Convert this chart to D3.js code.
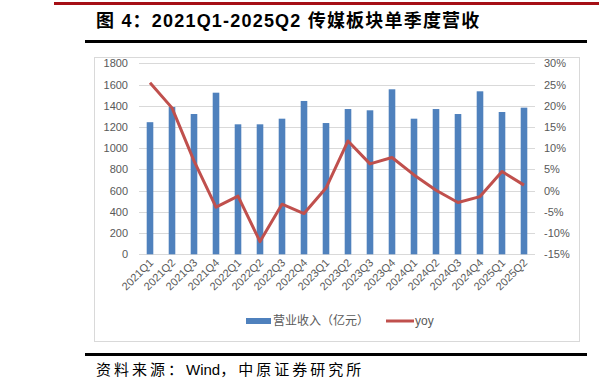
<!DOCTYPE html>
<html>
<head>
<meta charset="utf-8">
<script src="https://cdn.jsdelivr.net/npm/d3@7/dist/d3.min.js"></script>
<style>
  body { margin: 0; background: #fff; }
  svg { display: block; }
  .tick text { font-family: "Liberation Sans", Arial, sans-serif; }
</style>
</head>
<body>
<svg id="chart" width="599" height="389"></svg>
<script>
const quarters = ["2021Q1", "2021Q2", "2021Q3", "2021Q4", "2022Q1", "2022Q2", "2022Q3", "2022Q4",
  "2023Q1", "2023Q2", "2023Q3", "2023Q4", "2024Q1", "2024Q2", "2024Q3", "2024Q4", "2025Q1", "2025Q2"];
const revenue = [1245, 1388, 1322, 1523, 1225, 1225, 1278, 1445,
  1237, 1369, 1357, 1555, 1278, 1369, 1322, 1536, 1341, 1382];
const yoy = [25.4, 19.5, 7.0, -3.9, -1.3, -12.0, -3.2, -5.4,
  0.6, 11.7, 6.3, 7.8, 3.7, 0.1, -2.8, -1.4, 4.5, 1.3];
const leftTicks = [0, 200, 400, 600, 800, 1000, 1200, 1400, 1600, 1800];
const rightTicks = [-15, -10, -5, 0, 5, 10, 15, 20, 25, 30];

const svg = d3.select("#chart");
const blue = "#4f81bd";
const red = "#c0504d";
const gray = "#595959";
const mixedFont = "'Liberation Sans', 'Noto Sans CJK SC', sans-serif";

// Header rules and title
svg.append("rect").attr("x", 54).attr("y", 2).attr("width", 545).attr("height", 3).attr("fill", "#a50f15");
svg.append("text")
  .attr("x", 96)
  .attr("y", 27)
  .attr("font-family", mixedFont)
  .attr("font-weight", "bold")
  .attr("font-size", 18)
  .attr("letter-spacing", 1.2)
  .attr("fill", "#000")
  .text("图 4：2021Q1-2025Q2 传媒板块单季度营收");
svg.append("rect").attr("x", 85).attr("y", 40).attr("width", 502).attr("height", 3).attr("fill", "#000");

// Chart frame
svg.append("rect")
  .attr("x", 94.5).attr("y", 57.5).attr("width", 485).attr("height", 284)
  .attr("fill", "none").attr("stroke", "#d9d9d9");

const plot = { left: 139, right: 535, top: 63.3, bottom: 254.3 };

const x = d3.scaleBand().domain(quarters).range([plot.left, plot.right]).paddingInner(0.7).paddingOuter(0.35);
const yL = d3.scaleLinear().domain([0, 1800]).range([plot.bottom, plot.top]);
const yR = d3.scaleLinear().domain([-15, 30]).range([plot.bottom, plot.top]);

// Gridlines
svg.append("g")
  .selectAll("line")
  .data(leftTicks)
  .join("line")
  .attr("x1", plot.left).attr("x2", plot.right)
  .attr("y1", (d) => Math.round(yL(d)) + 0.5).attr("y2", (d) => Math.round(yL(d)) + 0.5)
  .attr("stroke", "#d9d9d9");

// Left axis
const leftAxis = svg.append("g")
  .attr("transform", `translate(${plot.left - 11},0)`)
  .call(d3.axisLeft(yL).tickValues(leftTicks).tickSize(0).tickPadding(0).tickFormat(d3.format("d")));
leftAxis.select(".domain").remove();
leftAxis.selectAll("text").attr("font-size", 11).attr("fill", gray);

// Right axis
const rightAxis = svg.append("g")
  .attr("transform", `translate(${plot.right + 9},0)`)
  .call(d3.axisRight(yR).tickValues(rightTicks).tickSize(0).tickPadding(0).tickFormat((d) => d + "%"));
rightAxis.select(".domain").remove();
rightAxis.selectAll("text").attr("font-size", 11).attr("fill", gray);

// Bars
svg.append("g")
  .selectAll("rect")
  .data(quarters)
  .join("rect")
  .attr("x", (d) => x(d))
  .attr("y", (d, i) => yL(revenue[i]))
  .attr("width", x.bandwidth())
  .attr("height", (d, i) => yL(0) - yL(revenue[i]))
  .attr("fill", blue);

// X axis
const xAxis = svg.append("g")
  .attr("transform", `translate(0,${plot.bottom})`)
  .call(d3.axisBottom(x).tickSize(0).tickPadding(0));
xAxis.select(".domain").remove();
xAxis.selectAll("text")
  .attr("font-size", 11)
  .attr("fill", gray)
  .attr("text-anchor", "end")
  .attr("dy", 0)
  .attr("transform", "translate(4,9) rotate(-45)");

// YoY line
const line = d3.line()
  .x((d, i) => x(quarters[i]) + x.bandwidth() / 2)
  .y((d) => yR(d));
svg.append("path")
  .datum(yoy)
  .attr("d", line)
  .attr("fill", "none")
  .attr("stroke", red)
  .attr("stroke-width", 3)
  .attr("stroke-linejoin", "round");

// Legend
const legend = svg.append("g").attr("font-size", 12).attr("fill", gray);
legend.append("rect").attr("x", 246).attr("y", 318).attr("width", 25).attr("height", 6).attr("fill", blue);
legend.append("text").attr("x", 273).attr("y", 325)
  .attr("font-family", "'Noto Sans CJK SC', sans-serif")
  .text("营业收入（亿元）");
legend.append("line").attr("x1", 386).attr("x2", 414).attr("y1", 321).attr("y2", 321)
  .attr("stroke", red).attr("stroke-width", 3);
legend.append("text").attr("x", 415).attr("y", 325)
  .attr("font-family", "'Liberation Sans', Arial, sans-serif")
  .text("yoy");

// Footer
svg.append("rect").attr("x", 85).attr("y", 353).attr("width", 502).attr("height", 3).attr("fill", "#000");
const source = svg.append("text")
  .attr("x", 96)
  .attr("y", 375)
  .attr("font-family", mixedFont)
  .attr("font-size", 15)
  .attr("fill", "#000");
source.append("tspan").attr("letter-spacing", 3).text("资料来源：");
source.append("tspan").attr("letter-spacing", 0).text("Wind");
source.append("tspan").attr("letter-spacing", 3).text("，中原证券研究所");
</script>
</body>
</html>
